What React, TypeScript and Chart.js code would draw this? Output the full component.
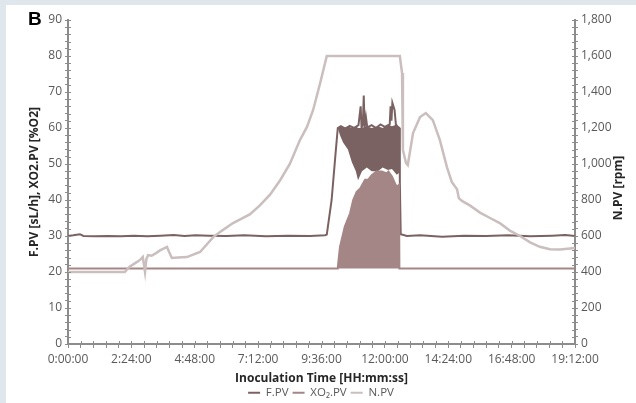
import React, { useEffect, useRef } from "react";
import { Chart, registerables } from "chart.js";

Chart.register(...registerables);

// ---- tick definitions ----
const xMajorTickMinutes = [0, 144, 288, 432, 576, 720, 864, 1008, 1152];
const xMajorTickLabels = ["0:00:00", "2:24:00", "4:48:00", "7:12:00", "9:36:00", "12:00:00", "14:24:00", "16:48:00", "19:12:00"];
const yLeftTicks = [0, 10, 20, 30, 40, 50, 60, 70, 80, 90];
const yRightTicks = [0, 200, 400, 600, 800, 1000, 1200, 1400, 1600, 1800];

// ---- titles ----
const panelLabel = "B";
const xTitle = "Inoculation Time [HH:mm:ss]";
const yLeftTitle = "F.PV [sL/h], XO2.PV [%O2]";
const yRightTitle = "N.PV [rpm]";
const seriesNames = ["F.PV", "XO₂.PV", "N.PV"];

// ---- F.PV [sL/h] (time in minutes) ----
const fpvMinutes = [0, 12, 27, 35, 60, 90, 120, 150, 180, 210, 240, 265, 290, 320, 360, 400, 450, 500, 550, 584, 588, 599, 608, 613, 620, 630, 640, 650, 660, 665, 667, 670, 672, 674, 677, 680, 690, 700, 710, 720, 731, 733, 735, 737, 742, 745, 748, 753, 754, 756, 770, 800, 850, 900, 950, 1000, 1050, 1100, 1130, 1152];
const fpvValues = [30, 30.2, 30.5, 30, 29.9, 30, 29.9, 30.1, 29.9, 30.1, 30.3, 30, 30.2, 30.1, 30, 30.2, 29.9, 30.1, 30, 30.2, 30.4, 40, 53, 60, 60.5, 59.8, 60.6, 60, 60.8, 66, 60, 61, 69, 60, 63, 60.2, 60.8, 60, 61, 60.3, 61, 66, 62, 67, 65, 61, 60.5, 60, 45, 30.5, 30, 30.2, 29.8, 30.1, 30, 30.2, 29.9, 30.1, 30.3, 30];

// F.PV oscillation band (dense fluctuation range)
const fpvBandMinutes = [613, 618, 625, 636, 645, 654, 659, 668, 679, 690, 704, 715, 727, 736, 747, 752, 754];
const fpvBandUpper = [60, 60.5, 60, 60.5, 60, 60.5, 60, 60, 60.5, 60, 60.5, 60, 61, 60.5, 61, 60, 60];
const fpvBandLower = [60, 58, 56, 54, 50.5, 48, 45.5, 48, 49, 48, 48, 49, 48.3, 48.6, 47, 47.5, 47];

// ---- XO2.PV [%O2] ----
const xo2Minutes = [0, 613, 614, 618, 629, 641, 648, 656, 664, 675, 682, 690, 701, 713, 724, 728, 736, 743, 747, 752, 753, 1152];
const xo2Values = [21, 21, 22.4, 27, 32.6, 36.3, 40, 42.3, 43.2, 45.6, 45.6, 46.9, 47.9, 47.9, 47.4, 47.9, 46.5, 44.6, 43.7, 44.2, 21, 21];

// ---- N.PV [rpm] ----
const npvMinutes = [0, 129, 140, 157, 165, 170, 175, 178, 182, 190, 200, 209, 225, 230, 236, 250, 270, 300, 330, 350, 375, 413, 436, 459, 482, 504, 527, 543, 557, 573, 588, 754, 759, 761, 768, 772, 784, 800, 813, 829, 845, 861, 872, 884, 888, 895, 913, 936, 959, 982, 1004, 1027, 1050, 1072, 1095, 1118, 1152];
const npvValues = [400, 400, 430, 456, 470, 483, 400, 470, 494, 490, 505, 520, 539, 510, 478, 480, 483, 511, 594, 630, 672, 720, 770, 830, 910, 1000, 1133, 1206, 1300, 1450, 1600, 1600, 1505, 1078, 1006, 994, 1172, 1261, 1283, 1244, 1133, 983, 900, 860, 810, 795, 770, 730, 700, 670, 630, 600, 565, 540, 527, 525, 533];

const FONT = '"Open Sans", "Noto Sans", sans-serif';
const C_F = "#7b6262";
const C_XO2 = "#a58686";
const C_N = "#cabebe";
const AXIS = "#8c8c8c";
const TICKTXT = "#595959";

const pts = (xs: number[], ys: number[]) => xs.map((x, i) => ({ x, y: ys[i] }));

const fmtMinutes = (v: number) => {
  const idx = xMajorTickMinutes.findIndex((m) => Math.abs(m - v) < 1e-6);
  return idx >= 0 ? xMajorTickLabels[idx] : "";
};

const decorPlugin = {
  id: "decor",
  afterDraw(chart: any) {
    const { ctx, chartArea } = chart;
    ctx.save();
    // inner halves of the axis tick marks
    ctx.strokeStyle = AXIS;
    ctx.lineWidth = 1;
    const sx = chart.scales.x, sy = chart.scales.y, sy1 = chart.scales.y1;
    ctx.beginPath();
    sx.ticks.forEach((t: any) => {
      const p = Math.round(sx.getPixelForValue(t.value)) + 0.5;
      ctx.moveTo(p, chartArea.bottom);
      ctx.lineTo(p, chartArea.bottom - 3);
    });
    sy.ticks.forEach((t: any) => {
      const p = Math.round(sy.getPixelForValue(t.value)) + 0.5;
      ctx.moveTo(chartArea.left, p);
      ctx.lineTo(chartArea.left + 3, p);
    });
    sy1.ticks.forEach((t: any) => {
      const p = Math.round(sy1.getPixelForValue(t.value)) + 0.5;
      ctx.moveTo(chartArea.right, p);
      ctx.lineTo(chartArea.right - 3, p);
    });
    ctx.stroke();

    // axis titles
    ctx.fillStyle = "#262626";
    ctx.font = `bold 12px ${FONT}`;
    ctx.textAlign = "center";
    ctx.textBaseline = "middle";
    const midY = (chartArea.top + chartArea.bottom) / 2;
    ctx.fillText(xTitle, (chartArea.left + chartArea.right) / 2, chartArea.bottom + 35);
    ctx.save();
    ctx.translate(chartArea.left - 33, midY);
    ctx.rotate(-Math.PI / 2);
    ctx.fillText(yLeftTitle, 0, 0);
    ctx.restore();
    ctx.save();
    ctx.translate(chartArea.right + 44, midY + 6);
    ctx.rotate(-Math.PI / 2);
    ctx.fillText(yRightTitle, 0, 0);
    ctx.restore();

    // panel label
    ctx.fillStyle = "#000000";
    ctx.font = `bold 19px "Liberation Sans", Arial, sans-serif`;
    ctx.textAlign = "left";
    ctx.textBaseline = "alphabetic";
    ctx.fillText(panelLabel, 22, 20);
    ctx.restore();
  },
};

export default function App() {
  const ref = useRef<HTMLCanvasElement | null>(null);

  useEffect(() => {
    if (!ref.current) return;
    const tickFont = { family: FONT, size: 12 };
    const chart = new Chart(ref.current, {
      type: "line",
      data: {
        datasets: [
          {
            label: seriesNames[0],
            data: pts(fpvMinutes, fpvValues),
            borderColor: C_F,
            backgroundColor: C_F,
            borderWidth: 2,
            pointRadius: 0,
            yAxisID: "y",
            order: 2,
          },
          {
            label: seriesNames[1],
            data: pts(xo2Minutes, xo2Values),
            borderColor: C_XO2,
            backgroundColor: C_XO2,
            borderWidth: 2,
            pointRadius: 0,
            yAxisID: "y",
            fill: { value: 21 },
            order: 1,
          },
          {
            label: seriesNames[2],
            data: pts(npvMinutes, npvValues),
            borderColor: C_N,
            backgroundColor: C_N,
            borderWidth: 2.5,
            pointRadius: 0,
            yAxisID: "y1",
            order: 0,
          },
          {
            label: "bandUpper",
            data: pts(fpvBandMinutes, fpvBandUpper),
            borderColor: C_F,
            backgroundColor: C_F,
            borderWidth: 0,
            pointRadius: 0,
            yAxisID: "y",
            order: 3,
          },
          {
            label: "bandLower",
            data: pts(fpvBandMinutes, fpvBandLower),
            borderColor: C_F,
            backgroundColor: C_F,
            borderWidth: 0,
            pointRadius: 0,
            yAxisID: "y",
            fill: "-1",
            order: 4,
          },
        ] as any,
      },
      options: {
        animation: false,
        responsive: false,
        events: [],
        layout: { padding: { top: 15, left: 0, right: 0, bottom: 0 } },
        plugins: {
          tooltip: { enabled: false },
          legend: {
            position: "bottom",
            maxHeight: 20,
            labels: {
              padding: 4,
              boxWidth: 12,
              boxHeight: 2,
              color: TICKTXT,
              font: { family: FONT, size: 11.5 },
              generateLabels: (ch: any) =>
                ch.data.datasets
                  .map((ds: any, i: number) => ({
                    text: ds.label,
                    fillStyle: ds.borderColor,
                    strokeStyle: ds.borderColor,
                    lineWidth: 0,
                    hidden: false,
                    datasetIndex: i,
                    fontColor: TICKTXT,
                  }))
                  .filter((l: any) => l.datasetIndex < 3),
            },
          },
        },
        scales: {
          x: {
            type: "linear",
            min: 0,
            max: 1152,
            ticks: {
              stepSize: 28.8,
              autoSkip: false,
              minRotation: 0,
              maxRotation: 0,
              callback: (v: any) => fmtMinutes(Number(v)),
              color: TICKTXT,
              font: tickFont,
              padding: 4,
            },
            grid: { drawOnChartArea: false, drawTicks: true, tickLength: 4, color: AXIS, lineWidth: 1 },
            border: { display: true, color: AXIS, width: 2 },
            afterFit: (s: any) => {
              s.height = 39;
            },
          },
          y: {
            type: "linear",
            position: "left",
            min: 0,
            max: 90,
            ticks: {
              stepSize: 2,
              autoSkip: false,
              callback: (v: any) => (yLeftTicks.includes(Number(v)) ? String(v) : ""),
              color: TICKTXT,
              font: tickFont,
              padding: 3,
            },
            grid: { drawOnChartArea: false, drawTicks: true, tickLength: 3, color: AXIS, lineWidth: 1 },
            border: { display: true, color: AXIS, width: 2 },
            afterFit: (s: any) => {
              s.width = 62;
            },
          },
          y1: {
            type: "linear",
            position: "right",
            min: 0,
            max: 1800,
            ticks: {
              stepSize: 40,
              autoSkip: false,
              callback: (v: any) => (yRightTicks.includes(Number(v)) ? Number(v).toLocaleString("en-US") : ""),
              color: TICKTXT,
              font: tickFont,
              padding: 3,
            },
            grid: { drawOnChartArea: false, drawTicks: true, tickLength: 3, color: AXIS, lineWidth: 1 },
            border: { display: true, color: AXIS, width: 2 },
            afterFit: (s: any) => {
              s.width = 61;
            },
          },
        },
      } as any,
      plugins: [decorPlugin],
    });
    return () => chart.destroy();
  }, []);

  return (
    <div style={{ position: "fixed", left: 0, top: 0, width: 636, height: 403, background: "#dfe6ec" }}>
      <div style={{ position: "absolute", left: 6, top: 5, width: 630, height: 398, background: "#ffffff" }}>
        <canvas ref={ref} width={630} height={398} style={{ display: "block" }} />
      </div>
    </div>
  );
}
